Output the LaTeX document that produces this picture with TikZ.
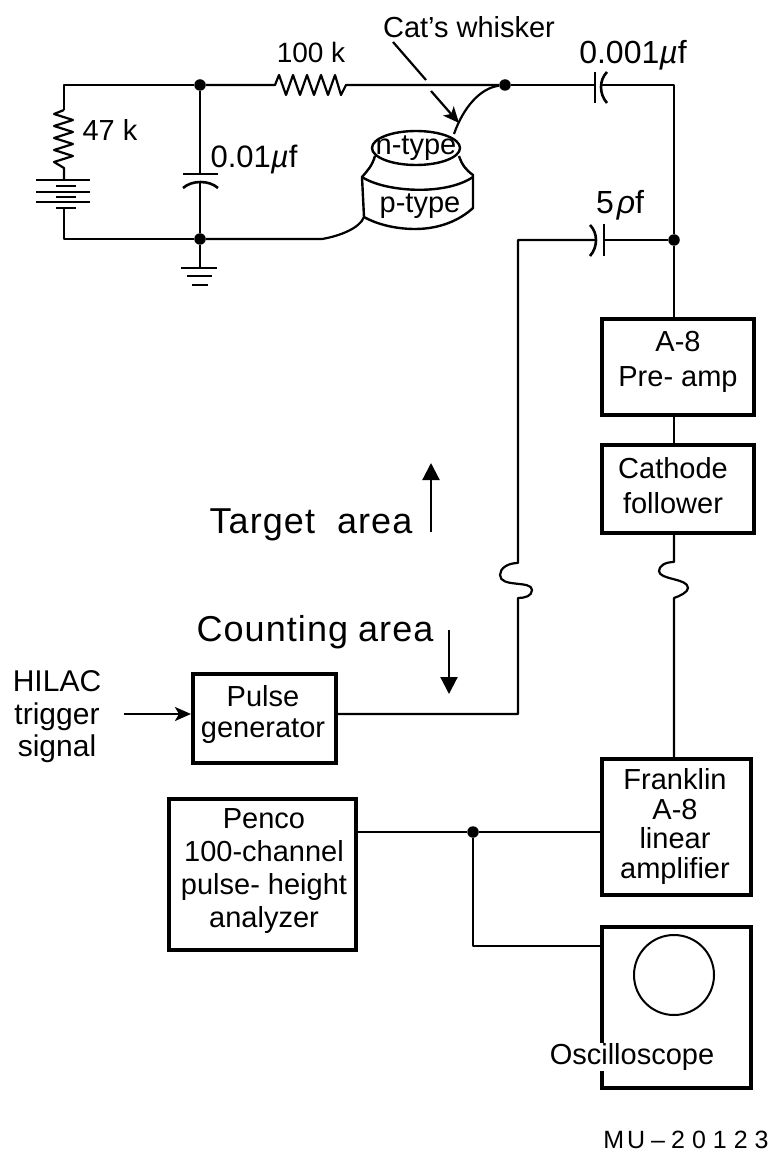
\documentclass[tikz,border=0pt]{standalone}
\usepackage{fontspec}
\setmainfont{Liberation Sans}
\usetikzlibrary{arrows.meta,shapes.geometric}
\newcommand{\fs}[2]{\fontsize{#1}{#2}\selectfont}
\tikzset{
  wire/.style={line width=2.2pt,line join=round},
  boxn/.style={draw,line width=3.6pt,inner sep=0pt,align=center,font=\fs{29}{35}},
  lbl/.style={inner sep=0pt,align=center,font=\fs{29}{32}},
  unitlbl/.style={inner sep=0pt,font=\fs{31}{34}},
  big/.style={inner sep=0pt,font=\fs{36}{40}\addfontfeatures{LetterSpace=3}},
  dotn/.style={circle,fill=black,inner sep=0pt,minimum size=11.5pt},
  plate/.style={line width=2.6pt},
  tipa/.style={-{Triangle[length=17pt,width=17pt]}},
  tipb/.style={-{Stealth[length=16pt,width=14pt,inset=4pt]}}
}
\begin{document}
\begin{tikzpicture}[x=1pt,y=-1pt]
\useasboundingbox (0,0) rectangle (778,1155);
% junctions
\node[dotn] (j1) at (200,85) {};
\node[dotn] (j2) at (200,239) {};
\node[dotn] (j3) at (505,85) {};
\node[dotn] (j4) at (674,240) {};
\node[dotn] (j5) at (473,832) {};
\coordinate (tl) at (64,85);
\coordinate (bl) at (64,239);
\coordinate (tr) at (674,85);
% boxes
\node[boxn,minimum width=152.5pt,minimum height=96.5pt] (pre) at (678,367) {};
\node[lbl,font=\fs{29}{35}] at (678,362) {A-8\\Pre- amp};
\node[boxn,minimum width=152.5pt,minimum height=88.5pt] (cath) at (678,489) {};
\node[lbl,font=\fs{29}{35}] at (673,485.5) {Cathode\\follower};
\node[boxn,minimum width=143.5pt,minimum height=89.5pt] (pulse) at (264.5,718.5) {};
\node[lbl,font=\fs{29}{31}] at (263,714.5) {Pulse\\generator};
\node[boxn,minimum width=187.5pt,minimum height=151.5pt] (penco) at (262.5,874.5) {};
\node[lbl,font=\fs{29}{33}] at (264,871.5) {Penco\\100-channel\\pulse- height\\analyzer};
\node[boxn,minimum width=149.5pt,minimum height=136.5pt] (frank) at (676.5,827) {};
\node[lbl,font=\fs{29}{29.5}] at (675,826.5) {Franklin\\A-8\\linear\\amplifier};
\node[boxn,minimum width=149.5pt,minimum height=161.5pt] (osc) at (676.5,1007.5) {};
\node[circle,draw,line width=2pt,minimum size=80pt,inner sep=0pt] (crt) at (674,975) {};
\node[lbl,fill=white,inner xsep=1pt] at (632,1057) {Oscilloscope};
% wires top
\draw[wire] (j1) -- (tl) -- (64,110);
\draw[wire] (64,110) -- (54,114) -- (73,120) -- (54,126) -- (73,132) -- (54,138) -- (73,144) -- (54,150) -- (73,156) -- (54,162) -- (64,168) -- (64,180);
\draw[plate] (36,180) -- (90,180) (56,186) -- (76,186) (36,192) -- (90,192) (56,197) -- (76,197) (36,202) -- (90,202) (56,208) -- (76,208);
\draw[wire] (64,208) -- (bl) -- (j2);
\draw[wire] (j1) -- (200,174);
\draw[plate] (183,174) -- (218,174);
\draw[plate] (183,188) .. controls (192,180) and (209,180) .. (218,188);
\draw[wire] (200,182) -- (j2);
\draw[wire] (j2) -- (200,268);
\draw[plate] (181,268) -- (217,268) (187,276) -- (212,276) (192,285) -- (208,285);
\draw[wire] (j1) -- (275,85) -- (279,75) -- (286,95) -- (293,75) -- (300,95) -- (307,75) -- (314,95) -- (321,75) -- (328,95) -- (335,75) -- (341,95) -- (346,85) -- (j3);
\draw[wire] (j3) -- (595,85);
\draw[plate] (595,72) -- (595,103);
\draw[plate] (607,72) .. controls (599,80) and (599,94) .. (607,103);
\draw[wire] (601,85) -- (tr) -- (j4);
\draw[wire] (j4) -- (j4 |- pre.north);
\draw[wire] (j4 |- pre.south) -- (j4 |- cath.north);
\draw[wire] (j4) -- (604,240);
\draw[plate] (604,224) -- (604,256);
\draw[plate] (590,225) .. controls (598,233) and (598,247) .. (590,256);
\draw[wire] (596,240) -- (518,240) -- (518,563) .. controls (508,563) and (500,568) .. (500,575) .. controls (500,588) and (532,580) .. (532,590) .. controls (532,596) and (525,598) .. (518,598) -- (518,714) -- (pulse.east |- 518,714);
\draw[wire] (j4 |- cath.south) -- (674,562) .. controls (665,562) and (659,566) .. (659,571) .. controls (659,580) and (688,578) .. (688,588) .. controls (688,592) and (680,596) .. (674,598) -- (j4 |- frank.north);
\draw[wire] (penco.east |- j5) -- (j5) -- (frank.west |- j5);
\draw[wire] (j5) -- (473,946) -- (osc.west |- 473,946);
% crystal
\node[ellipse,draw,line width=2.4pt,minimum width=88pt,minimum height=34pt,inner sep=0pt] (ntop) at (416,148) {};
\node[lbl] at (416,148) {n-type};
\draw[wire,line width=2.4pt] (375,156) .. controls (372,166) and (368,170) .. (362,177) -- (364,217) .. controls (380,226) and (400,229) .. (415,229) .. controls (440,229) and (460,220) .. (473,208) -- (473,175) .. controls (466,170) and (462,165) .. (459,156);
\draw[wire,line width=2.4pt] (362,177) .. controls (385,192) and (445,196) .. (473,177);
\node[lbl] (ptype) at (420,206) {p-type};
\draw[wire] (j2) -- (322,239) .. controls (340,236) and (360,228) .. (364,217);
\draw[wire] (j3) .. controls (480,88) and (463,108) .. (454,134);
% labels
\node[lbl] (cat) at (469,27) {Cat's\hspace{8pt}whisker};
\coordinate (w1) at (393,42);
\coordinate (w2) at (426,80);
\coordinate (w3) at (431,91);
\coordinate (w4) at (459,123);
\draw[wire] (w1) -- (w2);
\draw[wire,tipb] (w3) -- (w4);
\node[lbl,font=\fs{28}{32}] at (311,52) {100 k};
\node[lbl] at (110,130) {47 k};
\node[unitlbl] at (254,160) {0.01\textit{µ}f};
\node[unitlbl,font=\fs{32}{34}] at (633,55) {0.001\textit{µ}f};
\node[unitlbl,font=\fs{32}{34}] at (620,205) {5\hspace{3pt}\textit{ρ}f};
\node[big] at (311,525) {Target\hspace{22pt}area};
\node[big] at (315,632) {Counting\hspace{10pt}area};
\coordinate (ta) at (431,532);
\coordinate (tb) at (431,463);
\coordinate (ca) at (449,630);
\coordinate (cb) at (449,694);
\draw[wire,tipa] (ta) -- (tb);
\draw[wire,tipa] (ca) -- (cb);
\node[lbl,font=\fs{30}{32.5}] at (57,717) {HILAC\\trigger\\signal};
\coordinate (hs) at (124,714);
\draw[wire,tipb] (hs) -- (pulse.west |- hs);
\node[inner sep=0pt,font=\fs{25}{28}] at (686,1140) {M\hspace{3pt}U\hspace{6pt}–\hspace{6pt}2\hspace{7pt}0\hspace{7pt}1\hspace{7pt}2\hspace{7pt}3};
\end{tikzpicture}
\end{document}
